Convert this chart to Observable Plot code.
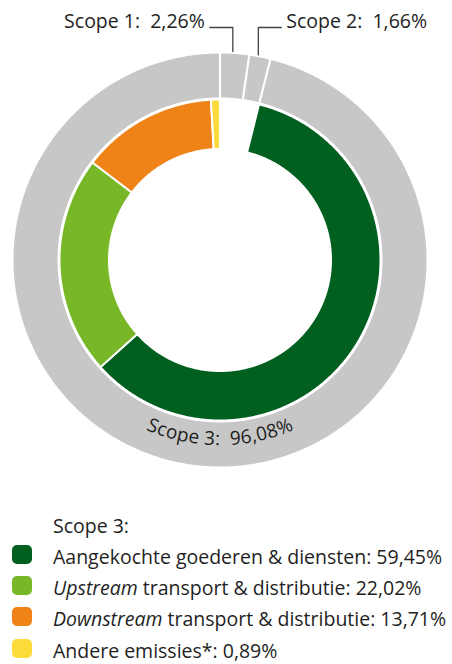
<!DOCTYPE html>
<html><head><meta charset="utf-8">
<script src="https://cdn.jsdelivr.net/npm/d3@7"></script>
<script src="https://cdn.jsdelivr.net/npm/@observablehq/plot@0.6"></script>
<style>
body{margin:0;background:#fff;font-family:"Open Sans",sans-serif;color:#1f1f1f;}
#chart{position:absolute;left:0;top:0;}
#legend{position:absolute;left:0;top:509.5px;width:452px;font-size:19.5px;}
.row{position:relative;height:31.3px;line-height:31.3px;padding-left:53px;white-space:nowrap;}
.sw{position:absolute;left:12px;top:4px;width:20px;height:19px;border-radius:5px;}
</style></head><body><div id="chart"></div><div id="legend"></div>
<script>
const scopes = ["Scope 1", "Scope 2", "Scope 3"];
const scopeValues = [2.26, 1.66, 96.08];
const scopeLabels = ["2,26%", "1,66%", "96,08%"];
const categories = ["Aangekochte goederen & diensten", "Upstream transport & distributie", "Downstream transport & distributie", "Andere emissies*"];
const categoryValues = [59.45, 22.02, 13.71, 0.89];
const categoryLabels = ["59,45%", "22,02%", "13,71%", "0,89%"];
const scopeColor = "#c6c7c6";
const categoryColors = ["#015f1f", "#78b828", "#f08317", "#fcdb3b"];

const W = 452, H = 500, CX = 219.5, CY = 259.5;
const R_OUT = [161.5, 207.5], R_IN = [111, 160.5];
const FS = 19.5, FS_ARC = 19;

function sector(key, a0, a1, r0, r1) {
  const pts = [];
  const n = Math.max(2, Math.ceil((a1 - a0) * 3.6 / 0.5));
  for (let i = 0; i <= n; i++) { const a = (a0 + (a1 - a0) * i / n) * Math.PI / 50; pts.push({key, x: r0 * Math.sin(a), y: r0 * Math.cos(a)}); }
  for (let i = n; i >= 0; i--) { const a = (a0 + (a1 - a0) * i / n) * Math.PI / 50; pts.push({key, x: r1 * Math.sin(a), y: r1 * Math.cos(a)}); }
  pts.push({...pts[0]});
  return pts;
}

let pts = [];
let acc = 0;
const scopeStart = [];
scopes.forEach((s, i) => { scopeStart.push(acc); pts = pts.concat(sector(s, acc, acc + scopeValues[i], R_OUT[0], R_OUT[1])); acc += scopeValues[i]; });
acc = scopeValues[0] + scopeValues[1];
categories.forEach((c, i) => { pts = pts.concat(sector(c, acc, acc + categoryValues[i], R_IN[0], R_IN[1])); acc += categoryValues[i]; });

// leader labels for Scope 1 and Scope 2
const labelY = CY - 27;
const leaders = [], leftLabels = [], rightLabels = [];
[0, 1].forEach(i => {
  const mid = (scopeStart[i] + scopeValues[i] / 2) * Math.PI / 50;
  const side = i === 0 ? -1 : 1;
  const x0 = 209 * Math.sin(mid) - 2, y0 = 209 * Math.cos(mid);
  leaders.push({k: i, x: x0, y: y0}, {k: i, x: x0, y: labelY}, {k: i, x: x0 + side * 23, y: labelY});
  (side < 0 ? leftLabels : rightLabels).push({x: x0 + side * 28, y: labelY + 5.5, text: scopes[i] + ":\u00a0\u00a0" + scopeLabels[i]});
});

// curved label for Scope 3
const arcText = scopes[2] + ":\u00a0\u00a0" + scopeLabels[2];
const ctx = document.createElement("canvas").getContext("2d");
ctx.font = `${FS_ARC}px "Open Sans"`;
const chars = [...arcText];
const widths = chars.map(c => ctx.measureText(c).width);
const total = d3.sum(widths);
const RC = 179;
let off = 0;
const arcChars = chars.map((c, i) => {
  const s = off + widths[i] / 2 - total / 2; off += widths[i];
  const th = Math.PI - s / RC;
  return {text: c, x: RC * Math.sin(th), y: RC * Math.cos(th), rotate: (th - Math.PI) * 180 / Math.PI};
});

const chart = Plot.plot({
  width: W, height: H, margin: 0,
  style: {fontFamily: "Open Sans", background: "#fff", color: "#1f1f1f"},
  x: {domain: [-CX, W - CX], axis: null},
  y: {domain: [CY - H, CY], axis: null},
  color: {domain: scopes.concat(categories), range: [scopeColor, scopeColor, scopeColor].concat(categoryColors)},
  marks: [
    Plot.line(pts, {x: "x", y: "y", z: "key", fill: "key", stroke: "#fff", strokeWidth: 2, curve: "linear"}),
    Plot.line(leaders, {x: "x", y: "y", z: "k", stroke: "#444", strokeWidth: 1.3}),
    Plot.text(leftLabels, {x: "x", y: "y", text: "text", textAnchor: "end", fontSize: FS, fill: "#1f1f1f"}),
    Plot.text(rightLabels, {x: "x", y: "y", text: "text", textAnchor: "start", fontSize: FS, fill: "#1f1f1f"}),
    Plot.text(arcChars, {x: "x", y: "y", text: "text", rotate: "rotate", fontSize: FS_ARC, fill: "#1f1f1f"})
  ]
});
document.getElementById("chart").append(chart);

const legend = document.getElementById("legend");
const head = document.createElement("div"); head.className = "row"; head.textContent = "Scope 3:"; legend.append(head);
categories.forEach((c, i) => {
  const row = document.createElement("div"); row.className = "row";
  const sw = document.createElement("span"); sw.className = "sw"; sw.style.background = categoryColors[i];
  row.append(sw);
  const html = c.replace(/^(Upstream|Downstream)/, "<i>$1</i>") + ": " + categoryLabels[i];
  const t = document.createElement("span"); t.innerHTML = html; row.append(t);
  legend.append(row);
});
</script></body></html>
